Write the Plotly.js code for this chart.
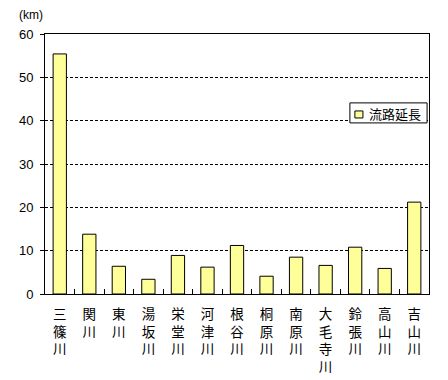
<!DOCTYPE html>
<html>
<head>
<meta charset="utf-8">
<script src="https://cdn.plot.ly/plotly-3.0.1.min.js"></script>
<style>html,body{margin:0;padding:0;background:#fff;}#chart{width:448px;height:380px;}</style>
</head>
<body>
<div id="chart"></div>
<script>
var categories = ["三篠川","関川","東川","湯坂川","栄堂川","河津川","根谷川","桐原川","南原川","大毛寺川","鈴張川","高山川","吉山川"];
var lengths = [55.4, 13.8, 6.4, 3.4, 8.9, 6.2, 11.2, 4.1, 8.5, 6.6, 10.8, 5.9, 21.2];
var seriesName = "流路延長";
var yTicks = [0, 10, 20, 30, 40, 50, 60];

var vertical = categories.map(function(s){ return s.split("").join("<br>"); });
var jp = "Noto Sans CJK JP, sans-serif";

var trace = {
  type: "bar",
  x: vertical,
  y: lengths,
  name: seriesName,
  width: 0.45,
  marker: {color: "#FFFF99", line: {color: "#000", width: 1}},
  hoverinfo: "skip"
};

var layout = {
  width: 448, height: 380,
  margin: {l: 45, r: 19, t: 34, b: 86},
  paper_bgcolor: "#fff", plot_bgcolor: "#fff",
  showlegend: false,
  xaxis: {
    type: "category",
    tickson: "boundaries",
    ticks: "inside", ticklen: 5, tickcolor: "#000",
    showline: true, linecolor: "#000", linewidth: 1, mirror: true,
    showgrid: false,
    tickangle: 0,
    tickfont: {family: jp, size: 13.5, color: "#000"},
    ticklabelstandoff: 8,
    fixedrange: true
  },
  yaxis: {
    range: [0, 60],
    tickvals: yTicks,
    ticks: "outside", ticklen: 4, tickcolor: "#000",
    showline: true, linecolor: "#000", linewidth: 1, mirror: true,
    showgrid: true, gridcolor: "#000", griddash: "3px,2px", gridwidth: 1,
    zeroline: false,
    tickfont: {family: "Liberation Sans, Arial, sans-serif", size: 13, color: "#000"},
    ticklabelstandoff: 4,
    fixedrange: true
  },
  shapes: [
    {type: "rect", xref: "paper", yref: "paper", x0: 0.794, x1: 0.995, y0: 0.658, y1: 0.735,
     line: {color: "#000", width: 1}, fillcolor: "#fff", layer: "above"},
    {type: "rect", xref: "paper", yref: "paper", x0: 0.807, x1: 0.828, y0: 0.677, y1: 0.704,
     line: {color: "#000", width: 1}, fillcolor: "#FFFF99", layer: "above"}
  ],
  annotations: [{
    text: "(km)", xref: "paper", yref: "paper", x: 0, y: 1, xshift: -28, yshift: 19,
    xanchor: "left", yanchor: "middle", showarrow: false,
    font: {family: "Liberation Sans, Arial, sans-serif", size: 12, color: "#000"}
  }, {
    text: seriesName, xref: "paper", yref: "paper", x: 0.8385, y: 0.696,
    xanchor: "left", yanchor: "middle", showarrow: false,
    font: {family: jp, size: 13, color: "#000"}
  }]
};

Plotly.newPlot("chart", [trace], layout, {displayModeBar: false, staticPlot: true});
</script>
</body>
</html>
